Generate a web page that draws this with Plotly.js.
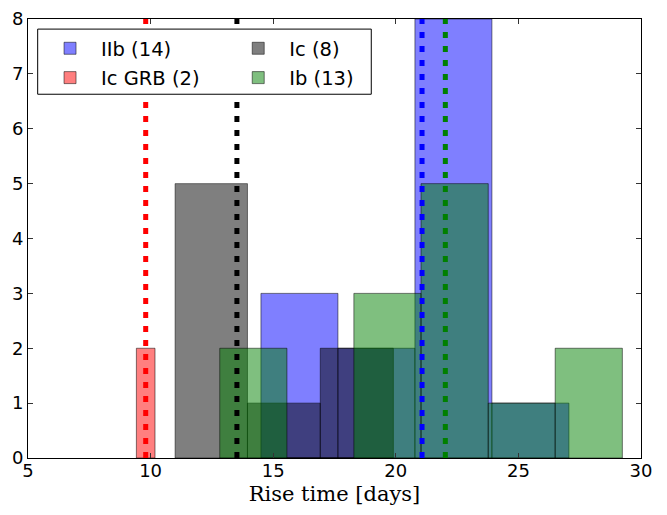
<!DOCTYPE html>
<html>
<head>
<meta charset="utf-8">
<script src="https://cdn.plot.ly/plotly-3.0.1.min.js"></script>
<style>html,body{margin:0;padding:0;background:#fff;}#chart{width:667px;height:515px;}</style>
</head>
<body>
<div id="chart"></div>
<script>
// Histogram bin edges and counts per supernova type
const iibEdges = [14.50, 17.64, 20.78, 23.92, 27.06];
const iibCounts = [3, 2, 8, 1];
const grbEdges = [9.42, 10.18];
const grbCounts = [2];
const icEdges = [11.00, 13.95, 16.92, 19.90];
const icCounts = [5, 1, 2];
const ibEdges = [12.82, 15.56, 18.29, 21.03, 23.77, 26.50, 29.24];
const ibCounts = [2, 0, 3, 5, 1, 2];

// Median rise times (vertical dotted lines)
const medianValues = [9.80, 13.52, 21.07, 22.02];
const medianColors = ['#ff0000', '#000000', '#0000ff', '#008000'];

const seriesNames = ['IIb (14)', 'Ic GRB (2)', 'Ic (8)', 'Ib (13)'];
const xTicks = [5, 10, 15, 20, 25, 30];
const yTicks = [0, 1, 2, 3, 4, 5, 6, 7, 8];

function histTrace(edges, counts, name, fill, legend, rank) {
  const x = [], w = [];
  for (let i = 0; i < counts.length; i++) {
    x.push((edges[i] + edges[i + 1]) / 2);
    w.push(edges[i + 1] - edges[i]);
  }
  return {
    type: 'bar', x: x, y: counts, width: w, name: name,
    legend: legend, legendrank: rank, legendgroup: name,
    marker: {color: fill, line: {color: 'rgba(0,0,0,0.5)', width: 1}},
    hoverinfo: 'skip'
  };
}

const traces = [
  histTrace(iibEdges, iibCounts, seriesNames[0], 'rgba(0,0,255,0.5)', 'legend', 1),
  histTrace(grbEdges, grbCounts, seriesNames[1], 'rgba(255,0,0,0.5)', 'legend', 2),
  histTrace(icEdges, icCounts, seriesNames[2], 'rgba(0,0,0,0.5)', 'legend2', 1),
  histTrace(ibEdges, ibCounts, seriesNames[3], 'rgba(0,128,0,0.5)', 'legend2', 2)
];

medianValues.forEach((v, i) => {
  traces.push({
    type: 'scatter', mode: 'lines', x: [v, v], y: [0, yTicks[yTicks.length - 1]],
    line: {color: medianColors[i], width: 5, dash: '6px,8px'},
    showlegend: false, hoverinfo: 'skip'
  });
});

const axisCommon = {
  showline: true, linecolor: '#000', linewidth: 1, mirror: 'allticks',
  ticks: 'inside', ticklen: 5, tickcolor: '#333', tickwidth: 1,
  showgrid: false, zeroline: false,
  tickfont: {family: 'DejaVu Sans', size: 18, color: '#000'}
};

const legendCommon = {
  yanchor: 'top', xanchor: 'left', y: 0.977,
  bgcolor: 'rgba(0,0,0,0)', borderwidth: 0,
  font: {family: 'DejaVu Sans', size: 19.5, color: '#000'},
  itemwidth: 52, tracegroupgap: 1, traceorder: 'grouped',
  orientation: 'v'
};

const layout = {
  width: 667, height: 515,
  margin: {l: 28, r: 26, t: 19, b: 57},
  paper_bgcolor: '#fff', plot_bgcolor: '#fff',
  barmode: 'overlay', bargap: 0,
  showlegend: true,
  xaxis: Object.assign({}, axisCommon, {
    range: [xTicks[0], xTicks[xTicks.length - 1]], tickvals: xTicks,
    ticklabelstandoff: -4,
    title: {text: 'Rise time [days]', font: {family: 'DejaVu Serif', size: 21, color: '#000'}, standoff: 6}
  }),
  yaxis: Object.assign({}, axisCommon, {
    range: [yTicks[0], yTicks[yTicks.length - 1]], tickvals: yTicks
  }),
  legend: Object.assign({}, legendCommon, {x: 0.018}),
  legend2: Object.assign({}, legendCommon, {x: 0.325}),
  shapes: [{
    type: 'rect', xref: 'paper', yref: 'paper',
    x0: 0.0158, x1: 0.560, y0: 0.8286, y1: 0.977,
    fillcolor: '#fff', line: {color: '#000', width: 1}, layer: 'above'
  }]
};

Plotly.newPlot('chart', traces, layout, {displayModeBar: false, staticPlot: true});
</script>
</body>
</html>
